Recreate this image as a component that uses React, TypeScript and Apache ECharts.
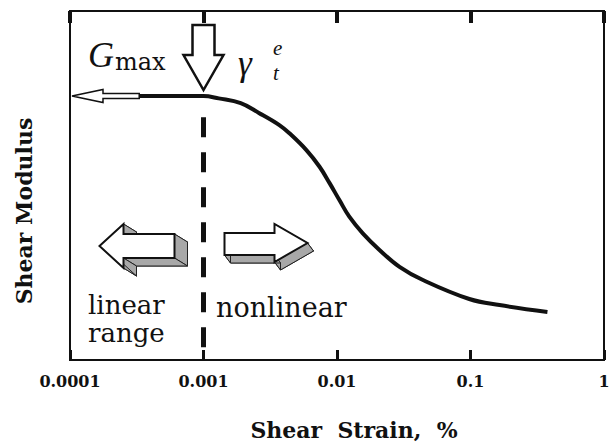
import React, { useEffect, useRef } from "react";
import * as echarts from "echarts";

// Shear strain (%) and normalised shear modulus G/Gmax
const strain = [0.00033, 0.001, 0.0013, 0.0019, 0.0026, 0.0037, 0.0044, 0.0059, 0.0074, 0.0088, 0.0105, 0.0124, 0.0156, 0.0208, 0.0294, 0.044, 0.098, 0.165, 0.377];
const modulus = [1.0, 1.0, 0.991, 0.973, 0.936, 0.89, 0.859, 0.795, 0.732, 0.67, 0.603, 0.542, 0.48, 0.417, 0.353, 0.303, 0.231, 0.208, 0.182];
const tickLabels = ["0.0001", "0.001", "0.01", "0.1", "1"];
const thresholdStrain = 0.001; // elastic threshold strain
const thresholdTop = 0.92;
const yMax = 1.322;
const xMin = 0.0001;
const xMax = 1;

const SERIF = "DejaVu Serif";
const TIMES = "Liberation Serif";

function blockArrow(front: number[][], dx: number, dy: number): any[] {
  const els: any[] = [];
  const back = front.map((p) => [p[0] + dx, p[1] + dy]);
  els.push({ type: "polygon", shape: { points: back }, style: { fill: "#a8a8a8", stroke: "#222", lineWidth: 1 } });
  for (let i = 0; i < front.length; i++) {
    const a = front[i];
    const b = front[(i + 1) % front.length];
    els.push({
      type: "polygon",
      shape: { points: [a, b, [b[0] + dx, b[1] + dy], [a[0] + dx, a[1] + dy]] },
      style: { fill: "#a8a8a8", stroke: "#222", lineWidth: 1 },
    });
  }
  els.push({ type: "polygon", shape: { points: front }, style: { fill: "#fff", stroke: "#111", lineWidth: 2 } });
  return els;
}

export default function App() {
  const ref = useRef<HTMLDivElement>(null);
  useEffect(() => {
    if (!ref.current) return;
    const chart = echarts.init(ref.current, null, { renderer: "svg" });
    const option: any = {
      animation: false,
      backgroundColor: "#fff",
      grid: { left: 70, right: 10, top: 11, bottom: 84, show: true, borderColor: "#111", borderWidth: 2, backgroundColor: "transparent" },
      xAxis: [
        {
          type: "log",
          logBase: 10,
          min: xMin,
          max: xMax,
          position: "bottom",
          axisLine: { show: false },
          splitLine: { show: false },
          axisTick: { show: true, inside: true, length: 10, lineStyle: { color: "#111", width: 3 } },
          axisLabel: {
            margin: 13,
            color: "#111",
            fontFamily: SERIF,
            fontWeight: "bold",
            fontSize: 16,
            formatter: (v: number) => tickLabels[Math.round(Math.log10(v) + 4)] ?? "",
          },
        },
        {
          type: "log",
          logBase: 10,
          min: xMin,
          max: xMax,
          position: "top",
          axisLine: { show: false },
          splitLine: { show: false },
          axisTick: { show: true, inside: true, length: 12, lineStyle: { color: "#111", width: 4 } },
          axisLabel: { show: false },
        },
      ],
      yAxis: {
        type: "value",
        min: 0,
        max: yMax,
        axisLine: { show: false },
        axisTick: { show: false },
        axisLabel: { show: false },
        splitLine: { show: false },
      },
      series: [
        {
          type: "line",
          data: strain.map((s, i) => [s, modulus[i]]),
          smooth: 0.4,
          symbol: "none",
          lineStyle: { color: "#111", width: 4 },
        },
        {
          type: "line",
          data: [
            [thresholdStrain, thresholdTop],
            [thresholdStrain, 0],
          ],
          symbol: "none",
          lineStyle: { color: "#111", width: 5, type: [20, 15] },
        },
      ],
    };
    chart.setOption(option);

    const P = (x: number, y: number) => chart.convertToPixel({ gridIndex: 0 }, [x, y]) as number[];
    const g: any[] = [];

    // hollow arrow pointing to the Gmax axis
    const a0 = P(xMin, 1.0);
    const a1 = P(strain[0], 1.0);
    const tx = a0[0] + 2, ty = a0[1];
    const hx = tx + 31;
    g.push({
      type: "polygon",
      shape: { points: [[tx, ty], [hx, ty - 6.5], [hx, ty - 2.5], [a1[0], ty - 2.5], [a1[0], ty + 2.5], [hx, ty + 2.5], [hx, ty + 6.5]] },
      style: { fill: "#fff", stroke: "#111", lineWidth: 1.5 },
    });

    // down arrow at threshold strain
    const d = P(thresholdStrain, 1.0);
    const dx0 = d[0], dy0 = d[1] - 6;
    g.push({
      type: "polygon",
      shape: {
        points: [
          [dx0 - 11, dy0 - 65], [dx0 + 11, dy0 - 65], [dx0 + 11, dy0 - 35], [dx0 + 20, dy0 - 35],
          [dx0, dy0], [dx0 - 20, dy0 - 35], [dx0 - 11, dy0 - 35],
        ],
      },
      style: { fill: "#fff", stroke: "#111", lineWidth: 2.5 },
    });

    // Gmax label
    g.push({ type: "text", style: { x: 88, y: 55, text: "G", font: `italic 36px "${TIMES}"`, fill: "#111", verticalAlign: "middle" } });
    g.push({ type: "text", style: { x: 115, y: 62, text: "max", font: `24px "${SERIF}"`, fill: "#111", verticalAlign: "middle" } });
    // gamma_t^e label
    g.push({ type: "text", style: { x: 238, y: 63, text: "γ", font: `italic 35px "${TIMES}"`, fill: "#111", verticalAlign: "middle" } });
    g.push({ type: "text", style: { x: 273, y: 48, text: "e", font: `italic 21px "${TIMES}"`, fill: "#111", verticalAlign: "middle" } });
    g.push({ type: "text", style: { x: 273, y: 73, text: "t", font: `italic 21px "${TIMES}"`, fill: "#111", verticalAlign: "middle" } });

    // 3D block arrows
    const b = P(thresholdStrain, 0);
    const bx = b[0], by = b[1];
    const leftFront = [
      [bx - 104, by - 114], [bx - 80, by - 136], [bx - 80, by - 126], [bx - 29, by - 126],
      [bx - 29, by - 102], [bx - 80, by - 102], [bx - 80, by - 92],
    ];
    g.push(...blockArrow(leftFront, 13, 8));
    const rightFront = [
      [bx + 21, by - 127], [bx + 71, by - 127], [bx + 71, by - 136], [bx + 104, by - 117],
      [bx + 71, by - 98], [bx + 71, by - 105], [bx + 21, by - 105],
    ];
    g.push(...blockArrow(rightFront, 6, 8));

    // region labels
    g.push({ type: "text", style: { x: 88, y: 305, text: "linear", font: `26px "${SERIF}"`, fill: "#111", verticalAlign: "middle" } });
    g.push({ type: "text", style: { x: 88, y: 333, text: "range", font: `26px "${SERIF}"`, fill: "#111", verticalAlign: "middle" } });
    g.push({ type: "text", style: { x: 216, y: 307, text: "nonlinear", font: `27px "${SERIF}"`, fill: "#111", verticalAlign: "middle" } });

    // axis titles
    g.push({ type: "text", style: { x: 354, y: 430, text: "Shear  Strain,  %", font: `bold 22px "${SERIF}"`, fill: "#111", align: "center", verticalAlign: "middle" } });
    g.push({
      type: "text",
      x: 24,
      y: 211,
      rotation: Math.PI / 2,
      style: { x: 0, y: 0, text: "Shear Modulus", font: `bold 22px "${SERIF}"`, fill: "#111", align: "center", verticalAlign: "middle" },
    });

    chart.setOption({ graphic: { elements: g } });
    return () => chart.dispose();
  }, []);
  return <div ref={ref} style={{ width: 614, height: 444, position: "absolute", left: 0, top: 0 }} />;
}
